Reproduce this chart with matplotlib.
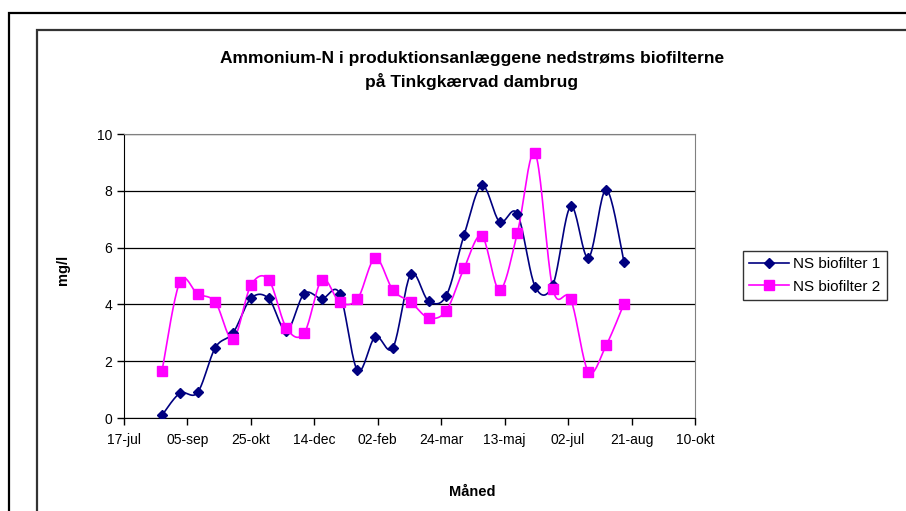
import numpy as np
import matplotlib
matplotlib.use("Agg")
import matplotlib.pyplot as plt
import matplotlib.dates as mdates
from matplotlib.lines import Line2D
from matplotlib.patches import Rectangle
import datetime as dt

# ---- data ----
start_date = dt.date(2000, 8, 16)
n_points = 27
dates = [start_date + dt.timedelta(days=14 * i) for i in range(n_points)]

biofilter1 = [0.10, 0.87, 0.90, 2.48, 3.00, 4.21, 4.21, 3.07, 4.38, 4.20,
              4.38, 1.68, 2.86, 2.48, 5.06, 4.12, 4.31, 6.44, 8.19, 6.91,
              7.19, 4.63, 4.69, 7.45, 5.64, 8.04, 5.50]
biofilter2 = [1.67, 4.79, 4.37, 4.08, 2.78, 4.67, 4.87, 3.17, 2.99, 4.87,
              4.08, 4.19, 5.63, 4.50, 4.08, 3.53, 3.78, 5.27, 6.41, 4.51,
              6.51, 9.32, 4.54, 4.19, 1.63, 2.56, 4.02]

tick_dates = [dt.date(2000, 7, 17) + dt.timedelta(days=50 * i) for i in range(10)]
tick_labels = ["17-jul", "05-sep", "25-okt", "14-dec", "02-feb",
               "24-mar", "13-maj", "02-jul", "21-aug", "10-okt"]
series_names = ["NS biofilter 1", "NS biofilter 2"]
title = "Ammonium-N i produktionsanlæggene nedstrøms biofilterne\npå Tinkgkærvad dambrug"


def smooth(x, y, n=20):
    """Catmull-Rom style smoothing similar to Excel's smoothed line."""
    x = np.asarray(x, float)
    y = np.asarray(y, float)
    px = np.concatenate([[x[0]], x, [x[-1]]])
    py = np.concatenate([[y[0]], y, [y[-1]]])
    xs, ys = [], []
    t = np.linspace(0, 1, n, endpoint=False)
    for i in range(1, len(px) - 2):
        p0x, p1x, p2x, p3x = px[i - 1], px[i], px[i + 1], px[i + 2]
        p0y, p1y, p2y, p3y = py[i - 1], py[i], py[i + 1], py[i + 2]
        c1x = p1x + (p2x - p0x) / 6
        c1y = p1y + (p2y - p0y) / 6
        c2x = p2x - (p3x - p1x) / 6
        c2y = p2y - (p3y - p1y) / 6
        b0 = (1 - t) ** 3
        b1 = 3 * (1 - t) ** 2 * t
        b2 = 3 * (1 - t) * t ** 2
        b3 = t ** 3
        xs.append(b0 * p1x + b1 * c1x + b2 * c2x + b3 * p2x)
        ys.append(b0 * p1y + b1 * c1y + b2 * c2y + b3 * p2y)
    xs.append([x[-1]])
    ys.append([y[-1]])
    return np.concatenate(xs), np.concatenate(ys)


plt.rcParams['font.family'] = ['Liberation Sans', 'DejaVu Sans']

fig = plt.figure(figsize=(9.06, 5.11), dpi=100)
W, H = 906, 511

# outer frames
fig.add_artist(Rectangle((9 / W, -0.1), 1.0, 1 - 13 / H + 0.1, transform=fig.transFigure,
                         fill=False, edgecolor='black', lw=1.6))
fig.add_artist(Rectangle((37 / W, -0.1), 1.0, 1 - 30 / H + 0.1, transform=fig.transFigure,
                         fill=False, edgecolor='#333333', lw=1.6))

ax = fig.add_axes([124 / W, 1 - 418 / H, (695 - 124) / W, (418 - 134) / H])

xn = mdates.date2num(dates)
colors = ['#000080', '#FF00FF']
markers = ['D', 's']
msizes = [5, 7]
for vals, c, m, ms, name in zip([biofilter1, biofilter2], colors, markers, msizes, series_names):
    sx, sy = smooth(xn, vals)
    ax.plot(sx, sy, color=c, lw=1.2, zorder=3)
    ax.plot(xn, vals, linestyle='none', marker=m, color=c, markersize=ms, zorder=4)

tn = mdates.date2num(tick_dates)
ax.set_xlim(tn[0], tn[-1])
ax.set_ylim(0, 10)
ax.set_xticks(tn)
ax.set_xticklabels(tick_labels)
ax.set_yticks([0, 2, 4, 6, 8, 10])
ax.tick_params(axis='both', labelsize=10, direction='out', length=5, width=1, color='black')
ax.tick_params(axis='x', pad=6)
ax.grid(axis='y', color='black', lw=0.9)
ax.set_axisbelow(True)
for s in ['top', 'right']:
    ax.spines[s].set_color('#808080')
for s in ['left', 'bottom']:
    ax.spines[s].set_color('black')

fig.text(472 / W, 1 - 70.5 / H, title, ha='center', va='center', fontsize=12.5,
         fontweight='bold', linespacing=1.55)
fig.text(472 / W, 1 - 492 / H, "Måned", ha='center', va='center', fontsize=10.5, fontweight='bold')
fig.text(63 / W, 1 - 270 / H, "mg/l", ha='center', va='center', fontsize=10.5,
         fontweight='bold', rotation=90)

handles = [Line2D([], [], color=c, marker=m, markersize=ms, lw=1.2)
           for c, m, ms in zip(colors, markers, msizes)]
leg = fig.legend(handles, series_names, loc='upper left', bbox_to_anchor=(743 / W, 1 - 251 / H),
                 fontsize=11, frameon=True, fancybox=False, handlelength=2.6,
                 borderpad=0.4, labelspacing=0.55, handletextpad=0.3, borderaxespad=0)
leg.get_frame().set_edgecolor('black')
leg.get_frame().set_linewidth(1.0)

fig.savefig("out.png", dpi=100)
